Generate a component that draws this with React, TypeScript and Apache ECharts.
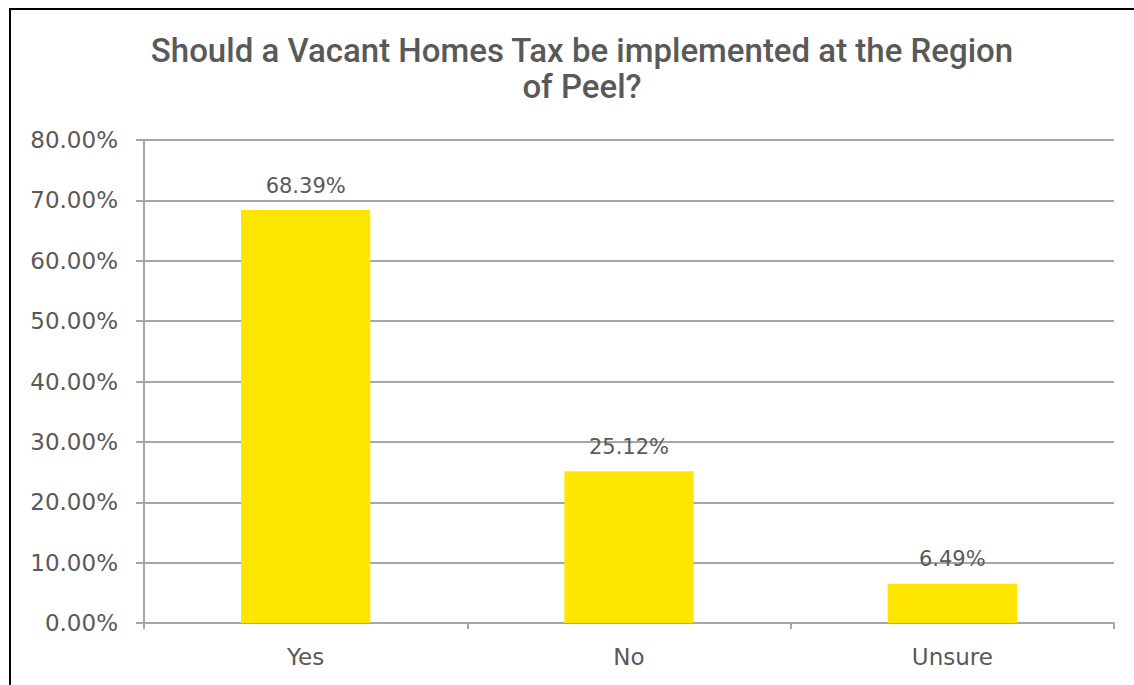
import React, { useEffect, useRef } from "react";
import * as echarts from "echarts";

const categories = ["Yes", "No", "Unsure"];
const values = [68.39, 25.12, 6.49];
const titleText = "Should a Vacant Homes Tax be implemented at the Region\nof Peel?";

export default function App() {
  const ref = useRef<HTMLDivElement>(null);
  useEffect(() => {
    if (!ref.current) return;
    const chart = echarts.init(ref.current, undefined, { renderer: "svg" });
    const gray = "#595959";
    const lineGray = "#A6A6A6";
    chart.setOption({
      animation: false,
      backgroundColor: "#ffffff",
      title: {
        text: titleText,
        left: 577,
        top: 27,
        textAlign: "center",
        textStyle: {
          fontFamily: "Roboto",
          fontSize: 33,
          fontWeight: 500,
          color: gray,
          lineHeight: 36,
        },
      },
      graphic: [
        {
          type: "rect",
          shape: { x: 10, y: 9, width: 1300, height: 900 },
          style: { fill: "none", stroke: "#000", lineWidth: 2 },
          silent: true,
        },
      ],
      grid: { left: 144, right: 20, top: 140, bottom: 62 },
      xAxis: {
        type: "category",
        data: categories,
        axisLine: { show: true, lineStyle: { color: lineGray, width: 2 } },
        axisTick: { show: true, length: 6, lineStyle: { color: lineGray, width: 2 } },
        axisLabel: {
          margin: 22,
          fontFamily: "DejaVu Sans",
          fontSize: 23,
          color: gray,
        },
      },
      yAxis: {
        type: "value",
        min: 0,
        max: 80,
        interval: 10,
        axisLine: { show: true, lineStyle: { color: lineGray, width: 2 } },
        axisTick: { show: true, length: 8, lineStyle: { color: lineGray, width: 2 } },
        splitLine: { show: true, lineStyle: { color: lineGray, width: 2 } },
        axisLabel: {
          margin: 26,
          fontFamily: "DejaVu Sans",
          fontSize: 23,
          color: gray,
          formatter: (v: number) => v.toFixed(2) + "%",
        },
      },
      series: [
        {
          type: "bar",
          data: values,
          barWidth: "40%",
          itemStyle: { color: "#FFE600" },
          label: {
            show: true,
            position: "top",
            distance: 14,
            fontFamily: "DejaVu Sans",
            fontSize: 21,
            color: gray,
            formatter: (p: any) => p.value.toFixed(2) + "%",
          },
        },
      ],
    });
    return () => chart.dispose();
  }, []);
  return (
    <div
      ref={ref}
      style={{ position: "fixed", left: 0, top: 0, width: 1134, height: 685 }}
    />
  );
}
